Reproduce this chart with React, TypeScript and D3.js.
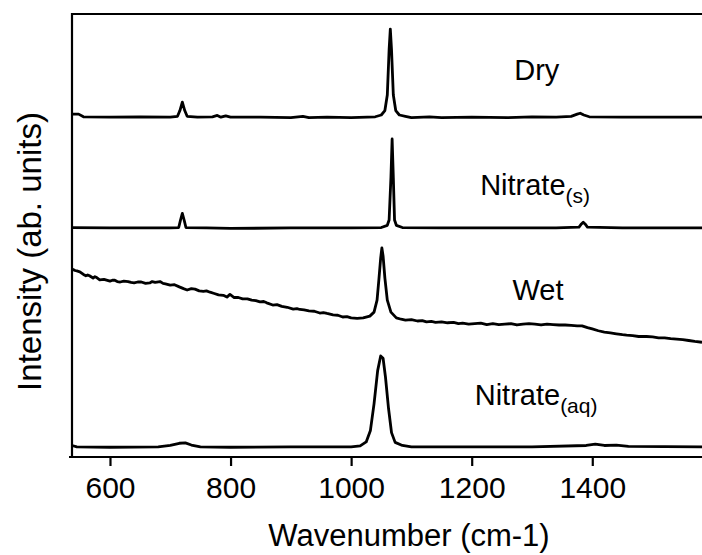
import React, { useEffect, useRef } from "react";
import * as d3 from "d3";

// wavenumber (cm-1), intensity (ab. units, each trace already offset)
const dry: [number, number][] = [
  [537, 77.4], [548, 77.4], [556, 76.8], [600, 76.7], [650, 76.8], [700, 76.7],
  [712, 76.9], [716, 78.2], [720, 80.1], [724, 78.2], [728, 76.9], [745, 76.7],
  [770, 76.8], [778, 77.1], [784, 76.7], [792, 77.0], [800, 76.7], [850, 76.7],
  [900, 76.6], [920, 76.9], [930, 76.6], [960, 76.7], [1000, 76.6], [1040, 76.8],
  [1050, 77.2], [1056, 78.2], [1060, 81.7], [1063, 91.9], [1065, 96.6], [1067, 91.9],
  [1070, 81.7], [1074, 78.2], [1080, 77.2], [1090, 76.9], [1100, 76.6], [1130, 76.8],
  [1150, 76.6], [1200, 76.7], [1260, 76.6], [1300, 76.8], [1340, 76.7], [1365, 76.9],
  [1375, 77.4], [1380, 77.6], [1386, 77.2], [1395, 76.8], [1450, 76.7], [1520, 76.7],
  [1582, 76.7],
];

const nitrateSolid: [number, number][] = [
  [537, 51.8], [600, 51.7], [700, 51.7], [714, 51.8], [717, 53.5], [720, 55.0],
  [723, 53.5], [726, 51.8], [760, 51.7], [800, 51.6], [900, 51.7], [1000, 51.7],
  [1050, 51.8], [1060, 52.3], [1063, 53.5], [1066, 63.0], [1068, 71.8], [1070, 63.0],
  [1072, 53.5], [1075, 52.3], [1085, 51.8], [1150, 51.7], [1250, 51.7], [1340, 51.7],
  [1378, 51.9], [1382, 52.6], [1385, 53.0], [1388, 52.6], [1392, 51.9], [1450, 51.7],
  [1582, 51.7],
];

const wet: [number, number][] = [
  [538, 42.4], [542, 42.1], [545, 42.0], [550, 41.8], [553, 41.5], [556, 41.2],
  [560, 40.9], [563, 41.1], [566, 40.9], [572, 40.4], [575, 40.7], [578, 40.5],
  [583, 40.0], [590, 40.1], [600, 39.7], [604, 39.9], [608, 39.9], [612, 39.6],
  [617, 39.5], [623, 39.7], [630, 39.6], [635, 39.4], [640, 39.3], [646, 39.5],
  [652, 39.5], [659, 39.2], [666, 39.3], [670, 39.6], [675, 39.4], [683, 39.6],
  [688, 39.2], [692, 39.1], [700, 38.8], [707, 38.9], [715, 38.4], [722, 38.0],
  [728, 37.7], [735, 38.0], [741, 37.9], [748, 37.5], [755, 37.4], [760, 37.5],
  [766, 37.2], [773, 36.9], [780, 36.6], [788, 36.5], [794, 36.1], [799, 36.7],
  [806, 36.0], [813, 36.0], [820, 35.7], [828, 35.7], [835, 35.4], [842, 35.3],
  [849, 35.0], [855, 35.1], [860, 34.8], [870, 34.3], [877, 34.4], [885, 34.0],
  [894, 33.8], [904, 33.4], [910, 33.5], [915, 33.3], [922, 33.2], [930, 33.0],
  [939, 32.9], [948, 32.5], [954, 32.6], [960, 32.4], [970, 32.1], [978, 32.0],
  [986, 31.6], [993, 31.7], [1000, 31.4], [1010, 31.3], [1020, 31.4], [1031, 31.8],
  [1038, 32.7], [1043, 35.4], [1046, 40.0], [1049, 44.9], [1051, 47.2], [1053, 45.4],
  [1056, 40.4], [1060, 35.4], [1066, 32.7], [1075, 31.4], [1083, 31.1], [1090, 30.9],
  [1100, 31.0], [1110, 30.7], [1118, 30.8], [1125, 30.5], [1133, 30.6], [1140, 30.4],
  [1150, 30.5], [1160, 30.3], [1170, 30.4], [1178, 30.1], [1185, 30.2], [1195, 30.0],
  [1205, 30.1], [1215, 30.2], [1225, 29.9], [1235, 30.1], [1245, 29.9], [1255, 30.0],
  [1265, 30.1], [1275, 29.8], [1285, 30.0], [1295, 30.1], [1305, 30.0], [1315, 29.8],
  [1325, 30.0], [1335, 29.9], [1345, 29.8], [1355, 29.8], [1365, 29.7], [1375, 29.6],
  [1383, 29.6], [1392, 29.2], [1400, 28.9], [1410, 28.5], [1420, 28.2], [1430, 28.0],
  [1440, 27.8], [1450, 27.6], [1457, 27.5], [1467, 27.4], [1477, 27.2], [1490, 27.2],
  [1500, 27.1], [1510, 26.9], [1520, 26.9], [1530, 26.7], [1540, 26.6], [1550, 26.5],
  [1560, 26.3], [1570, 26.1], [1582, 25.9],
];

const nitrateAq: [number, number][] = [
  [537, 2.6], [545, 2.3], [600, 2.2], [680, 2.3], [700, 2.6], [715, 3.1], [725, 3.2],
  [735, 2.7], [750, 2.3], [800, 2.2], [900, 2.3], [1000, 2.3], [1015, 2.5], [1025, 3.4],
  [1032, 6.0], [1038, 12.0], [1044, 19.5], [1049, 22.8], [1053, 22.3], [1057, 18.0],
  [1062, 11.0], [1067, 5.5], [1073, 3.3], [1085, 2.6], [1100, 2.3], [1200, 2.3],
  [1300, 2.3], [1390, 2.6], [1405, 2.9], [1420, 2.6], [1440, 2.7], [1460, 2.4],
  [1582, 2.3],
];

const series = [dry, nitrateSolid, wet, nitrateAq];

// label: main text, subscript, anchor wavenumber, anchor intensity
const labelText = ["Dry", "Nitrate", "Wet", "Nitrate"];
const labelSub = ["", "(s)", "", "(aq)"];
const labelX = [1308, 1214, 1310, 1205];
const labelY = [85.1, 59.1, 35.4, 11.7];
const labelAnchor = ["middle", "start", "middle", "start"];

const xTicks = [600, 800, 1000, 1200, 1400];

const App = () => {
  const svgRef = useRef<SVGSVGElement>(null);

  useEffect(() => {
    const w = 702;
    const h = 555;
    const left = 72;
    const top = 14;
    const bottom = 457;
    const font = "'Liberation Sans', Arial, sans-serif";

    const svg = d3.select(svgRef.current).attr("width", w).attr("height", h);
    svg.selectAll("*").remove();

    const xScale = d3.scaleLinear().domain([537, 1582]).range([left, w]);
    const yScale = d3.scaleLinear().domain([0, 100]).range([bottom, top]);

    const line = d3
      .line<[number, number]>()
      .x((d) => xScale(d[0]))
      .y((d) => yScale(d[1]));

    svg
      .selectAll(".trace")
      .data(series)
      .join("path")
      .attr("class", "trace")
      .attr("d", (d) => line(d))
      .attr("fill", "none")
      .attr("stroke", "#000")
      .attr("stroke-width", 2.8)
      .attr("stroke-linejoin", "round");

    // frame: top, left, bottom
    svg.append("line").attr("x1", left).attr("x2", w).attr("y1", top).attr("y2", top)
      .attr("stroke", "#000").attr("stroke-width", 2.2);
    svg.append("line").attr("x1", left).attr("x2", left).attr("y1", top - 1).attr("y2", bottom + 1)
      .attr("stroke", "#000").attr("stroke-width", 2.2);

    const xAxis = d3
      .axisBottom(xScale)
      .tickValues(xTicks)
      .tickFormat(d3.format("d"))
      .tickSize(9)
      .tickSizeOuter(0);
    const gx = svg
      .append("g")
      .attr("transform", `translate(0,${bottom})`)
      .call(xAxis);
    gx.select(".domain").attr("stroke-width", 2.2).attr("d", `M${left - 3},0H${w}`);
    gx.selectAll(".tick line").attr("stroke-width", 2.2);
    gx.selectAll(".tick text")
      .attr("y", 20)
      .attr("dy", "0.71em")
      .attr("font-size", 30)
      .attr("font-family", font)
      .attr("fill", "#000");

    svg
      .append("text")
      .attr("x", (left + w) / 2 + 22)
      .attr("y", 546)
      .attr("text-anchor", "middle")
      .attr("font-size", 31)
      .attr("font-family", font)
      .text("Wavenumber (cm-1)");

    svg
      .append("text")
      .attr("transform", `translate(41,${(top + bottom) / 2 + 16}) rotate(-90)`)
      .attr("text-anchor", "middle")
      .attr("font-size", 33)
      .attr("font-family", font)
      .text("Intensity (ab. units)");

    const labels = svg
      .selectAll(".label")
      .data(labelText)
      .join("text")
      .attr("class", "label")
      .attr("x", (_d, i) => xScale(labelX[i]))
      .attr("y", (_d, i) => yScale(labelY[i]))
      .attr("text-anchor", (_d, i) => labelAnchor[i])
      .attr("font-size", 29)
      .attr("font-family", font);
    labels.append("tspan").text((d) => d);
    labels
      .append("tspan")
      .attr("dy", 8)
      .attr("font-size", 21)
      .text((_d, i) => labelSub[i]);
  });

  return (
    <svg
      ref={svgRef}
      style={{ position: "absolute", left: 0, top: 0, background: "#fff" }}
    />
  );
};

export default App;
